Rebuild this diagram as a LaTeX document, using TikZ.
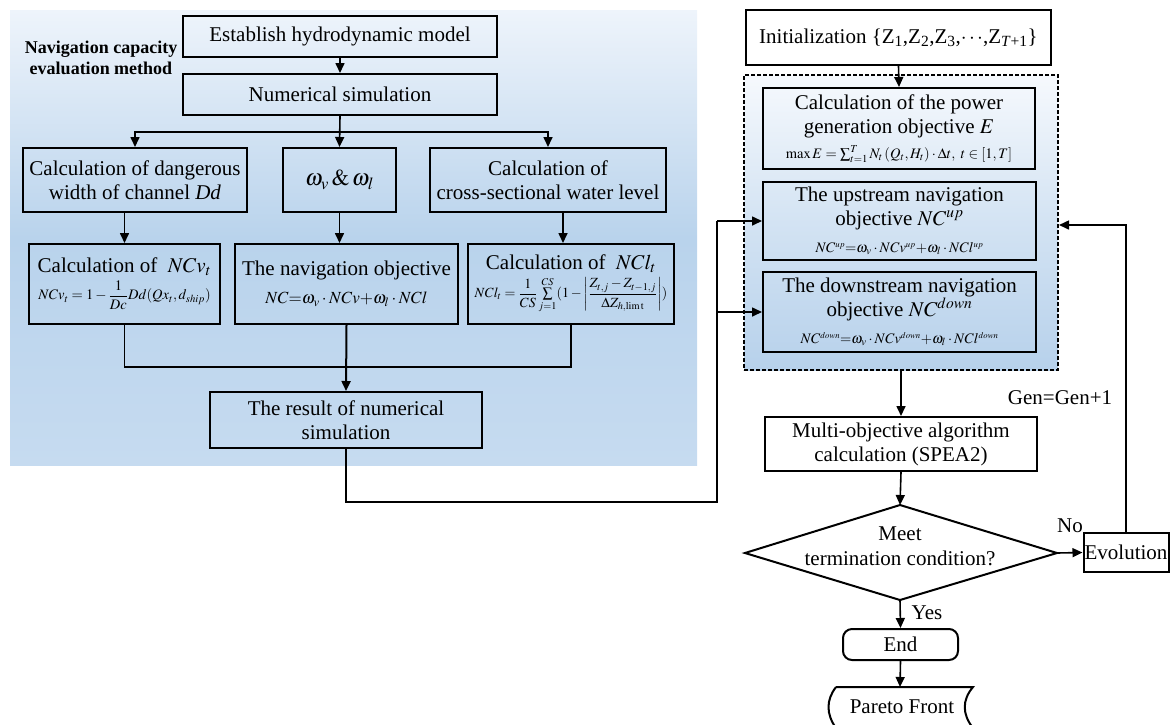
\documentclass[tikz,border=0pt]{standalone}
\usepackage{amsmath}
\usepackage{mathptmx}
\usepackage[no-math]{fontspec}
\setmainfont{Liberation Serif}
\usetikzlibrary{arrows.meta,calc}
\definecolor{bgtop}{HTML}{EEF4FB}
\definecolor{bgmid}{HTML}{B9D3EC}
\definecolor{bgbot}{HTML}{C6DBF0}
\definecolor{gtop}{HTML}{F6F9FD}
\definecolor{gmid}{HTML}{D3E3F3}
\definecolor{gbot}{HTML}{B7D1EB}
\newcommand{\txtsz}{\fontsize{21}{24}\selectfont}
\newcommand{\frmsz}{\fontsize{14.5}{17}\selectfont}
\newcommand{\ssup}[1]{^{\scriptscriptstyle #1}}
\tikzset{
  bx/.style={draw, line width=2pt, align=center, inner sep=1pt},
  ln/.style={line width=1.6pt},
  arr/.style={ln, -{Triangle[length=10pt,width=9pt]}},
  lbl/.style={inner sep=0pt, font=\txtsz}
}
\begin{document}
\begin{tikzpicture}[x=1pt,y=-1pt,font=\txtsz]
\useasboundingbox (0,0) rectangle (1172,724);
% left panel background
\shade[top color=bgtop, bottom color=bgbot, middle color=bgmid] (10,10) rectangle (697,465);
\node[lbl, align=center, font=\fontsize{18}{21}\selectfont\bfseries] (ttl) at (101,58) {Navigation capacity\\evaluation method};
% left flow
\node[bx, minimum width=314, minimum height=41] (est) at (340,36.5) {Establish hydrodynamic model};
\node[bx, minimum width=314, minimum height=41] (num) at (340,94.5) {Numerical simulation};
\node[bx, minimum width=224, minimum height=64] (dd) at (135,180) {Calculation of dangerous\\width of channel \textit{Dd}};
\node[bx, minimum width=113, minimum height=64] (om) at (339.5,180) {\fontsize{23}{25}\selectfont$\omega_v\,\&\,\omega_l$};
\node[bx, minimum width=236, minimum height=64] (cs) at (548,180) {Calculation of\\cross-sectional water level};
\node[bx, minimum width=191, minimum height=80] (ncv) at (124.5,284) {Calculation of \ $NCv_t$\\[3pt] {\frmsz $NCv_t=1-\dfrac{1}{Dc}Dd(Qx_t,d_{ship})$}};
\node[bx, minimum width=223, minimum height=80] (nc) at (346.5,284) {The navigation objective\\[4pt] {\fontsize{17}{19}\selectfont $NC{=}\omega_v\cdot NCv{+}\omega_l\cdot NCl$}};
\node[bx, minimum width=206, minimum height=80] (ncl) at (571,284) {Calculation of \ $NCl_t$\\[4pt] {\fontsize{14}{16}\selectfont $NCl_t=\dfrac{1}{CS}\sum\limits_{j=1}^{CS}(1-\left|\dfrac{Z_{t,j}-Z_{t-1,j}}{\Delta Z_{h,\mathrm{lim\,t}}}\right|)$}};
\node[bx, minimum width=272, minimum height=56] (res) at (346,420) {The result of numerical\\simulation};
% right flow
\node[bx, minimum width=305, minimum height=55] (init) at (898.5,37.5) {Initialization \{Z\textsubscript{1},Z\textsubscript{2},Z\textsubscript{3},$\mathbf{\cdots}$,Z\textsubscript{\textit{T}+1}\}};
\node[draw, line width=2pt, dash pattern=on 4pt off 2pt, minimum width=314, minimum height=295, top color=gtop, bottom color=gbot, middle color=gmid] (grp) at (901,222.5) {};
\node[bx, minimum width=272, minimum height=81] (pow) at (899,128.5) {Calculation of the power\\generation objective $E$\\[1pt] {\fontsize{14.5}{17}\selectfont $\max E=\sum_{t=1}^{T}N_t\left(Q_t,H_t\right)\cdot\Delta t,\ t\in\left[1,T\right]$}};
\node[bx, minimum width=273, minimum height=78] (up) at (899.5,221) {The upstream navigation\\objective $NC^{up}$\\[3pt] {\frmsz $NC\ssup{up}{=}\omega_v\cdot NCv\ssup{up}{+}\omega_l\cdot NCl\ssup{up}$}};
\node[bx, minimum width=273, minimum height=80] (down) at (899.5,312) {The downstream navigation\\objective $NC^{down}$\\[3pt] {\frmsz $NC\ssup{down}{=}\omega_v\cdot NCv\ssup{down}{+}\omega_l\cdot NCl\ssup{down}$}};
\node[bx, minimum width=272, minimum height=54] (multi) at (901,444) {Multi-objective algorithm\\calculation (SPEA2)};
\node[lbl, align=center, font=\fontsize{21}{25}\selectfont] (dia) at (900,546) {Meet\\termination condition?};
\coordinate (dT) at (900,505);
\coordinate (dB) at (900,600);
\coordinate (dL) at (745,553);
\coordinate (dR) at (1057,553);
\draw[line width=2pt, line join=miter] (dT) -- (dR) -- (dB) -- (dL) -- cycle;
\node[bx, minimum width=85, minimum height=39] (evo) at (1126,552.5) {Evolution};
\node[bx, rounded corners=9pt, minimum width=115, minimum height=31] (end) at (900.5,644.5) {End};
\node[lbl] (par) at (902,707) {Pareto Front};
\coordinate (pTL) at (836,687);
\coordinate (pTR) at (973,687);
\draw[line width=2pt] (pTL) -- (pTR) .. controls (962,700) and (962,714) .. (973,728);
\draw[line width=2pt] (pTL) .. controls (826,700) and (826,714) .. (836,728);
\coordinate (pT) at (900,687);
% labels
\node[lbl] (no) at (1070,526) {No};
\node[lbl] (gen) at (1060,398) {Gen=Gen+1};
\node[lbl] (yes) at (927,613) {Yes};
% connectors left
\draw[arr] (est.south) -- (num.north);
\draw[arr] (num.south) -- (om.north);
\coordinate (br) at (340,132);
\draw[arr] (br) -| (dd.north);
\draw[arr] (br) -| (cs.north);
\draw[arr] (ncv.north |- dd.south) -- (ncv.north);
\draw[arr] (om.south) -- (om.south |- nc.north);
\draw[arr] ([xshift=-8pt]ncl.north |- cs.south) -- ([xshift=-8pt]ncl.north);
\coordinate (mg) at (347,367);
\draw[ln] (ncv.south) |- (mg);
\draw[ln] (ncl.south) |- (mg);
\draw[arr, line width=2pt] (nc.south) -- (res.north);
\coordinate (rb) at (717,502);
\coordinate (ru) at (717,221);
\draw[ln] (res.south) |- (rb) -- (ru);
\draw[arr] (ru) -- (up.west);
\draw[arr] (ru |- down.west) -- (down.west);
% connectors right
\draw[arr] (init.south) -- (pow.north);
\draw[arr] (grp.south) -- (multi.north);
\draw[arr] (multi.south) -- (dT);
\draw[arr] (dR) -- (evo.west);
\draw[arr] (evo.north) |- ([yshift=-2.5pt]grp.east);
\draw[arr] (dB) -- (end.north);
\draw[arr] (end.south) -- (pT);
\end{tikzpicture}
\end{document}
